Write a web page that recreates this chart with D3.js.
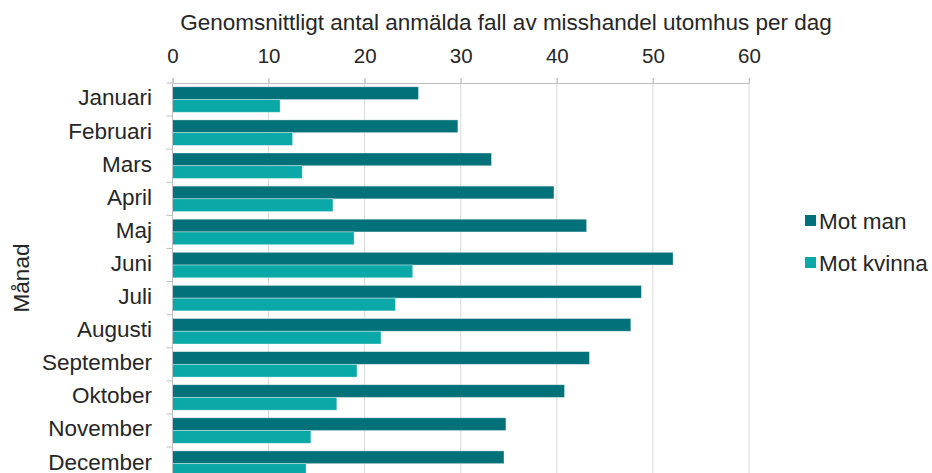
<!DOCTYPE html>
<html>
<head>
<meta charset="utf-8">
<script src="https://cdn.jsdelivr.net/npm/d3@7"></script>
<style>
  body { margin: 0; background: #fff; }
  text { font-family: "Liberation Sans", Arial, sans-serif; fill: #262626; }
</style>
</head>
<body>
<script>
// data
var months = ["Januari", "Februari", "Mars", "April", "Maj", "Juni", "Juli",
    "Augusti", "September", "Oktober", "November", "December"];
var motMan = [25.6, 29.7, 33.2, 39.7, 43.1, 52.1, 48.8, 47.7, 43.4, 40.8, 34.7, 34.5];
var motKvinna = [11.2, 12.5, 13.5, 16.7, 18.9, 25.0, 23.2, 21.7, 19.2, 17.1, 14.4, 13.9];
var seriesNames = ["Mot man", "Mot kvinna"];
var xTicks = [0, 10, 20, 30, 40, 50, 60];

var w = 932, h = 473;
const margin = {top: 83, left: 172.5};
const plotW = 749 - margin.left;
const bandH = 33.1;
const plotH = bandH * months.length;

var color = d3.scaleOrdinal().domain(seriesNames).range(["#03717a", "#0ba8a8"]);

var data = months.map(function(m, i) {
    return {month: m, values: [motMan[i], motKvinna[i]]};
});

var svg = d3.select("body").append("svg")
    .attr("width", w)
    .attr("height", h);

const g = svg.append("g")
    .attr("transform", "translate(" + margin.left + "," + margin.top + ")");

var x = d3.scaleLinear().domain([0, 60]).range([0, plotW]);

var y = d3.scaleBand().domain(months).range([0, plotH]).paddingInner(0.23).paddingOuter(0.115);

var y1 = d3.scaleBand().domain(seriesNames).range([0, y.bandwidth()]);

// gridlines
g.selectAll(".grid")
    .data(xTicks.slice(1))
    .enter().append("line")
    .attr("x1", d => x(d)).attr("x2", d => x(d))
    .attr("y1", -5).attr("y2", plotH)
    .style("stroke", "#d9d9d9")
    .style("stroke-width", 1);

// top axis
var xAxis = g.append("g")
    .call(d3.axisTop(x).tickValues(xTicks).tickSize(5).tickPadding(15));
xAxis.select(".domain").style("stroke", "#bfbfbf");
xAxis.selectAll(".tick line").style("stroke", "#bfbfbf");
xAxis.selectAll(".tick text")
    .style("font-size", "20.5px")
    .style("fill", "#262626");

// bars
var groups = g.selectAll(".month")
    .data(data)
    .enter().append("g")
    .attr("transform", d => "translate(0," + y(d.month) + ")");

groups.selectAll("rect")
    .data(d => d.values.map(function(v, i) { return {name: seriesNames[i], value: v}; }))
    .enter().append("rect")
    .attr("x", x(0))
    .attr("y", d => y1(d.name))
    .attr("width", d => x(d.value) - x(0))
    .attr("height", y1.bandwidth())
    .style("fill", d => color(d.name))
    .style("stroke", "#ffffff")
    .style("stroke-opacity", 0.45)
    .style("stroke-width", 0.8);

// left axis
var yAxis = g.append("g");
yAxis.append("line")
    .attr("x1", 0).attr("x2", 0)
    .attr("y1", 0).attr("y2", plotH)
    .style("stroke", "#bfbfbf");
yAxis.selectAll(".ytick")
    .data(d3.range(months.length + 1))
    .enter().append("line")
    .attr("x1", -6).attr("x2", 0)
    .attr("y1", d => d * bandH).attr("y2", d => d * bandH)
    .style("stroke", "#bfbfbf");
yAxis.selectAll(".ylabel")
    .data(months)
    .enter().append("text")
    .attr("x", -20.5)
    .attr("y", d => y(d) + y.bandwidth() / 2 - 2)
    .attr("dy", "0.35em")
    .style("text-anchor", "end")
    .style("font-size", "22.5px")
    .text(d => d);

// titles
svg.append("text")
    .attr("x", 506)
    .attr("y", 30)
    .style("text-anchor", "middle")
    .style("font-size", "22.5px")
    .text("Genomsnittligt antal anmälda fall av misshandel utomhus per dag");

svg.append("text")
    .attr("transform", "translate(29,278) rotate(-90)")
    .style("text-anchor", "middle")
    .style("font-size", "22.5px")
    .text("Månad");

// legend
var legend = svg.append("g")
    .attr("transform", "translate(805,215)");
var li = legend.selectAll(".leg")
    .data(seriesNames)
    .enter().append("g")
    .attr("transform", (d, i) => "translate(0," + i * 42 + ")");
li.append("rect")
    .attr("width", 11).attr("height", 11)
    .style("fill", d => color(d));
li.append("text")
    .attr("x", 14)
    .attr("y", 5.5)
    .attr("dy", "0.36em")
    .style("font-size", "22.5px")
    .text(d => d);
</script>
</body>
</html>
